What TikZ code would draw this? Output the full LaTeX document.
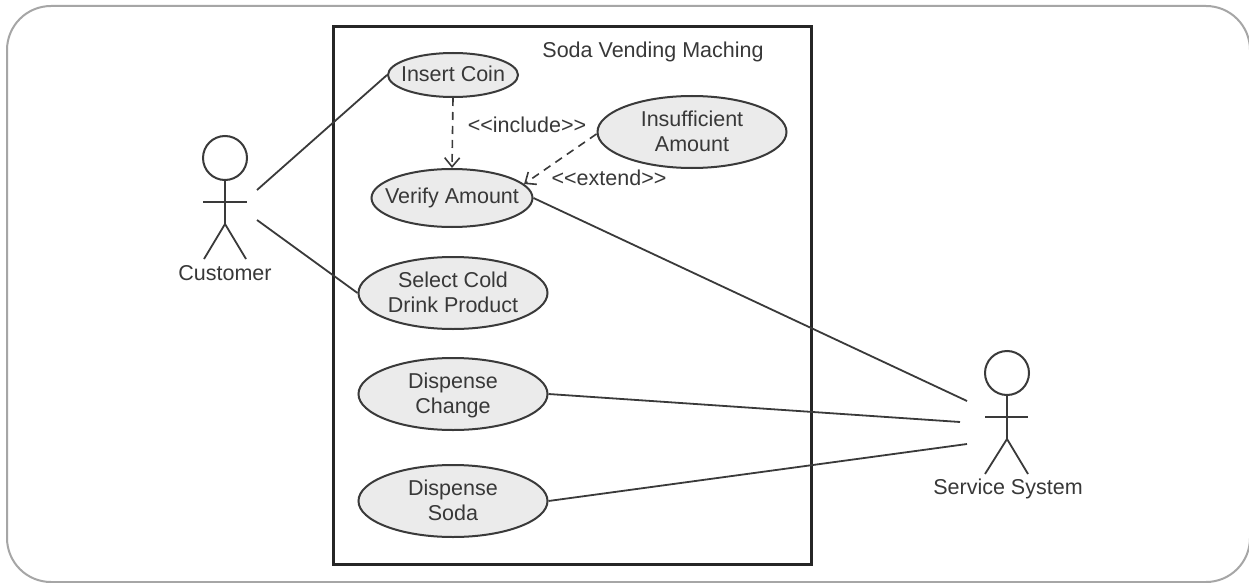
\documentclass[tikz,border=0pt]{standalone}
\usepackage{fontspec}
\setmainfont{Liberation Sans}
\usetikzlibrary{arrows.meta,shapes.geometric}
\definecolor{ink}{HTML}{3A3A3A}
\definecolor{txt}{HTML}{383838}
\definecolor{ucfill}{HTML}{EBEBEB}
\newcommand{\uctext}[2][-2pt]{\makebox[0pt]{\raisebox{#1}[\height][\depth]{\begin{tabular}{@{}c@{}}#2\end{tabular}}}}
\tikzset{
  usecase/.style={draw=ink,fill=ucfill,line width=2pt,ellipse,inner sep=0pt,text=txt,font=\fontsize{21.5}{25}\selectfont},
  label/.style={inner sep=0pt,text=txt,font=\fontsize{21.5}{25}\selectfont},
  head/.style={draw=ink,line width=2pt,circle,minimum size=44pt,inner sep=0pt},
  limb/.style={draw=ink,line width=1.8pt},
  assoc/.style={draw=ink,line width=1.8pt},
  dep/.style={draw=ink,line width=1.6pt,dashed,dash pattern=on 8pt off 6pt,-{Straight Barb[length=9pt,width=15pt,line width=1.6pt]}},
}
\begin{document}
\begin{tikzpicture}[x=1pt,y=-1pt]
\useasboundingbox (0,0) rectangle (1249,583);
\fill[white] (0,0) rectangle (1249,583);
\begin{scope}
\clip (0,0) rectangle (1249,583);
\draw[draw=black!35,line width=2pt,rounded corners=44pt] (7,6) rectangle (1250,582);
\end{scope}
\node[draw=black!85,line width=3pt,minimum width=478pt,minimum height=537pt,inner sep=0pt] (boundary) at (572,295.5) {};
\node[label] (title) at (653,52) {Soda Vending Maching};
\node[usecase,minimum width=130pt,minimum height=44pt] (coin) at (453,75) {\uctext{Insert Coin}};
\node[usecase,minimum width=189pt,minimum height=72pt] (insuff) at (692,132) {\uctext{Insufficient\\Amount}};
\node[usecase,minimum width=161pt,minimum height=58pt] (verify) at (452,198) {\uctext[0pt]{Verify Amount}};
\node[usecase,minimum width=189pt,minimum height=72pt] (select) at (453,293) {\uctext{Select Cold\\Drink Product}};
\node[usecase,minimum width=189pt,minimum height=72pt] (change) at (453,394) {\uctext{Dispense\\Change}};
\node[usecase,minimum width=189pt,minimum height=72pt] (soda) at (453,501) {\uctext{Dispense\\Soda}};
\node[label] (inc) at (527,125) {<{}<include>{}>};
\node[label] (ext) at (609,178) {<{}<extend>{}>};
\draw[dep] (coin.south) -- (verify.north);
\draw[dep] (insuff.west) ++(0,2) coordinate (insw) -- (verify.11);
% Customer
\node[head] (custhead) at (225,158) {};
\coordinate (custhip) at (225,224);
\coordinate (custla) at (203,202);
\coordinate (custra) at (247,202);
\coordinate (custll) at (204,259);
\coordinate (custrl) at (246,259);
\draw[limb] (custhead.south) -- (custhip);
\draw[limb] (custla) -- (custra);
\draw[limb] (custll) -- (custhip) -- (custrl);
\node[label] (cust) at (225,273) {Customer};
% Service system
\node[head] (svchead) at (1007,373) {};
\coordinate (svchip) at (1007,439);
\coordinate (svcla) at (985,417);
\coordinate (svcra) at (1028,417);
\coordinate (svcll) at (985,474);
\coordinate (svcrl) at (1028,474);
\draw[limb] (svchead.south) -- (svchip);
\draw[limb] (svcla) -- (svcra);
\draw[limb] (svcll) -- (svchip) -- (svcrl);
\node[label] (svc) at (1008,489) {Service System};
% Associations
\coordinate (c1) at (257,190);
\coordinate (c2) at (257,220);
\coordinate (s1) at (967,401);
\coordinate (s2) at (960,422);
\coordinate (s3) at (967,444);
\draw[assoc] (c1) -- (coin.west);
\draw[assoc] (c2) -- (select.west);
\draw[assoc] (verify.east) -- (s1);
\draw[assoc] (change.east) -- (s2);
\draw[assoc] (soda.east) -- (s3);
\end{tikzpicture}
\end{document}
